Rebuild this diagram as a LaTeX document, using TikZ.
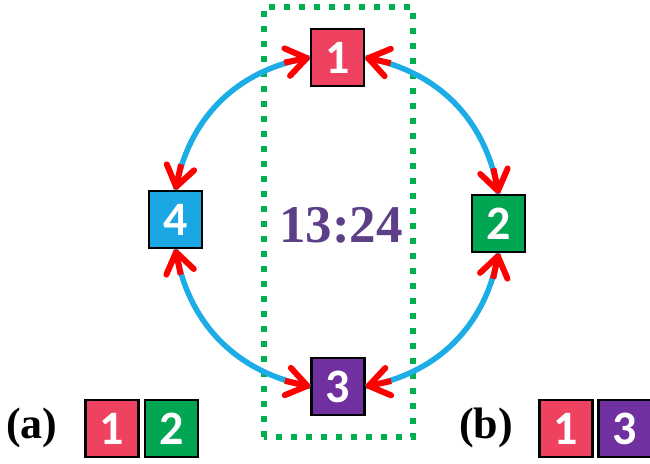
\documentclass[tikz,border=0pt]{standalone}
\usepackage{fontspec}
\setmainfont{Liberation Serif}
\newfontfamily\boxfont{Carlito}
\usetikzlibrary{arrows.meta,calc}
\definecolor{cRed}{HTML}{EF4160}
\definecolor{cGreen}{HTML}{00A651}
\definecolor{cBlue}{HTML}{1BA7E3}
\definecolor{cPurple}{HTML}{7030A0}
\definecolor{cDot}{HTML}{00B050}
\definecolor{cArc}{HTML}{1CACE6}
\definecolor{cText}{HTML}{5D3F87}
\definecolor{cTip}{HTML}{FF0000}
\tikzset{
  numbox/.style={draw=black, line width=2.5pt, minimum width=53pt, minimum height=57pt,
    inner sep=0pt, text=white, font=\boxfont\bfseries\fontsize{48}{48}\selectfont},
  redtip/.style={draw=cTip, line width=6pt,
    -{Straight Barb[length=20pt,width=28pt,line width=6pt,round]}},
  bluearc/.style={draw=cArc, line width=5.5pt},
  lbl/.style={anchor=base, inner sep=0pt, font=\bfseries\fontsize{44}{44}\selectfont},
  dotbox/.style={draw=cDot, line width=6pt, dash pattern=on 6pt off 9pt}
}
\begin{document}
\begin{tikzpicture}[x=1pt,y=1pt]
\clip (0,0) rectangle (650,463);
\useasboundingbox (0,0) rectangle (650,463);
\draw[dotbox] (264,26) rectangle (413,456);
\node[numbox, fill=cRed] (n1) at (337.5,405.5) {1};
\node[numbox, fill=cGreen] (n2) at (498.5,239.5) {2};
\node[numbox, fill=cPurple] (n3) at (338,76.5) {3};
\node[numbox, fill=cBlue] (n4) at (175.5,243.5) {4};
\node[anchor=base, inner sep=0pt, text=cText, font=\bfseries\fontsize{53}{53}\selectfont] (t) at (341,220) {13:24};
\foreach \s/\e in {n1.east/n2.north, n2.south/n3.east, n3.west/n4.south, n4.north/n1.west}{
  \draw[bluearc] (\s) to[bend left=35] (\e);
  \draw[redtip] ($(\s)!26pt!33:(\e)$) -- (\s);
  \draw[redtip] ($(\e)!26pt!-33:(\s)$) -- (\e);
}
\node[lbl] (la) at (32,25) {(a)};
\node[numbox, fill=cRed] (a1) at (112,34.5) {1};
\node[numbox, fill=cGreen] (a2) at (171.5,34.5) {2};
\node[lbl] (lb) at (486,25) {(b)};
\node[numbox, fill=cRed] (b1) at (566,34.5) {1};
\node[numbox, fill=cPurple] (b3) at (625,34.5) {3};
\end{tikzpicture}
\end{document}
